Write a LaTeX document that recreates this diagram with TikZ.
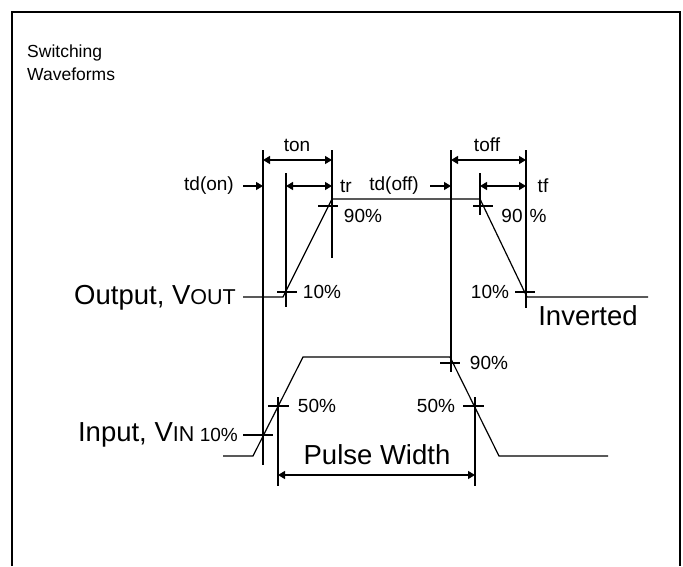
\documentclass[tikz,border=0pt]{standalone}
\usepackage{fontspec}
\setmainfont{Liberation Sans}
\usetikzlibrary{arrows.meta}

\tikzstyle{ttl} = [font=\fontsize{17.5}{21}\selectfont, inner sep=0pt]
\tikzstyle{lbl} = [font=\fontsize{19}{19}\selectfont, inner sep=0pt]
\tikzstyle{biglbl} = [font=\fontsize{27.5}{27.5}\selectfont, inner sep=0pt]
\tikzstyle{wave} = [line width=1.2pt]
\tikzstyle{guide} = [line width=1.2pt]
\tikzstyle{dim} = [line width=1.2pt, {Triangle[length=7pt,width=8pt]}-{Triangle[length=7pt,width=8pt]}]
\tikzstyle{ptr} = [line width=1.2pt, -{Triangle[length=7pt,width=8pt]}]
\tikzstyle{frame} = [line width=2.6pt]
\newcommand{\sml}[1]{{\fontsize{21.5}{21.5}\selectfont #1}}

\begin{document}
\begin{tikzpicture}[x=1pt, y=-1pt]
    \useasboundingbox (0,0) rectangle (683,566);

    % frame
    \coordinate (fbl) at (12,566);
    \coordinate (ftl) at (12,12);
    \coordinate (ftr) at (680,12);
    \coordinate (fbr) at (680,566);
    \draw[frame] (fbl) -- (ftl) -- (ftr) -- (fbr);

    \node[ttl, anchor=base west] (sw) at (27,57) {Switching};
    \node[ttl, anchor=base west] (wf) at (27,80) {Waveforms};

    %-------------------------------------------------------------
    % output waveform
    \coordinate (o0) at (243,297);
    \coordinate (o1) at (283,297);
    \coordinate (o2) at (332,199);
    \coordinate (o3) at (480,199);
    \coordinate (o4) at (527,297);
    \coordinate (o5) at (648,297);
    \draw[wave] (o0) -- (o1) -- (o2) -- (o3) -- (o4) -- (o5);

    % input waveform
    \coordinate (i0) at (223,456);
    \coordinate (i1) at (253,456);
    \coordinate (i2) at (303,357);
    \coordinate (i3) at (450,357);
    \coordinate (i4) at (499,456);
    \coordinate (i5) at (608,456);
    \draw[wave] (i0) -- (i1) -- (i2) -- (i3) -- (i4) -- (i5);

    %-------------------------------------------------------------
    % guide lines
    \draw[guide] (263,150) -- (263,465);
    \draw[guide] (286,173) -- (286,307);
    \draw[guide] (332,150) -- (332,258);
    \draw[guide] (451,150) -- (451,372);
    \draw[guide] (480,173) -- (480,215);
    \draw[guide] (526,150) -- (526,308);
    \draw[guide] (278,397) -- (278,486);
    \draw[guide] (475,397) -- (475,486);

    % level ticks
    \draw[guide] (277,292) -- (297,292);
    \draw[guide] (318,206) -- (338,206);
    \draw[guide] (473,206) -- (493,206);
    \draw[guide] (515,292) -- (535,292);
    \draw[guide] (243,435) -- (273,435);
    \draw[guide] (268,406) -- (289,406);
    \draw[guide] (440,363) -- (460,363);
    \draw[guide] (463,406) -- (484,406);

    %-------------------------------------------------------------
    % timing arrows
    \coordinate (ton1) at (263,160);
    \coordinate (ton2) at (332,160);
    \coordinate (toff1) at (451,160);
    \coordinate (toff2) at (526,160);
    \coordinate (tr1) at (286,186);
    \coordinate (tr2) at (332,186);
    \coordinate (tf1) at (480,186);
    \coordinate (tf2) at (526,186);
    \coordinate (pw1) at (278,475);
    \coordinate (pw2) at (475,475);
    \coordinate (don1) at (243,186);
    \coordinate (don2) at (263,186);
    \coordinate (doff1) at (430,186);
    \coordinate (doff2) at (451,186);
    \draw[dim] (ton1) -- (ton2);
    \draw[dim] (toff1) -- (toff2);
    \draw[dim] (tr1) -- (tr2);
    \draw[dim] (tf1) -- (tf2);
    \draw[dim] (pw1) -- (pw2);
    \draw[ptr] (don1) -- (don2);
    \draw[ptr] (doff1) -- (doff2);

    %-------------------------------------------------------------
    % labels
    \node[lbl] (ton) at (297,145) {ton};
    \node[lbl] (toff) at (487,145) {toff};
    \node[lbl, anchor=east] (tdon) at (234,186) {td(on)};
    \node[lbl] (tr) at (346,186) {tr};
    \node[lbl] (tdoff) at (394,186) {td(off)};
    \node[lbl] (tf) at (543,186) {tf};
    \node[lbl] (r90) at (363,216) {90\%};
    \node[lbl] (f90a) at (512,216) {90};
    \node[lbl] (f90b) at (538,216) {\%};
    \node[lbl] (r10) at (322,292) {10\%};
    \node[lbl] (f10) at (490,292) {10\%};
    \node[lbl] (in90) at (489,363) {90\%};
    \node[lbl] (in50a) at (317,406) {50\%};
    \node[lbl] (in50b) at (436,406) {50\%};
    \node[lbl, anchor=east] (in10) at (238,435) {10\%};

    \node[biglbl, anchor=base east] (outlab) at (236,304) {Output, V\sml{OUT}};
    \node[biglbl, anchor=base east] (inlab) at ([xshift=-5pt]in10.base west) {Input, V\sml{IN}};
    \node[biglbl] (inv) at (588,316) {Inverted};
    \node[biglbl] (pw) at (377,455) {Pulse Width};

\end{tikzpicture}
\end{document}
